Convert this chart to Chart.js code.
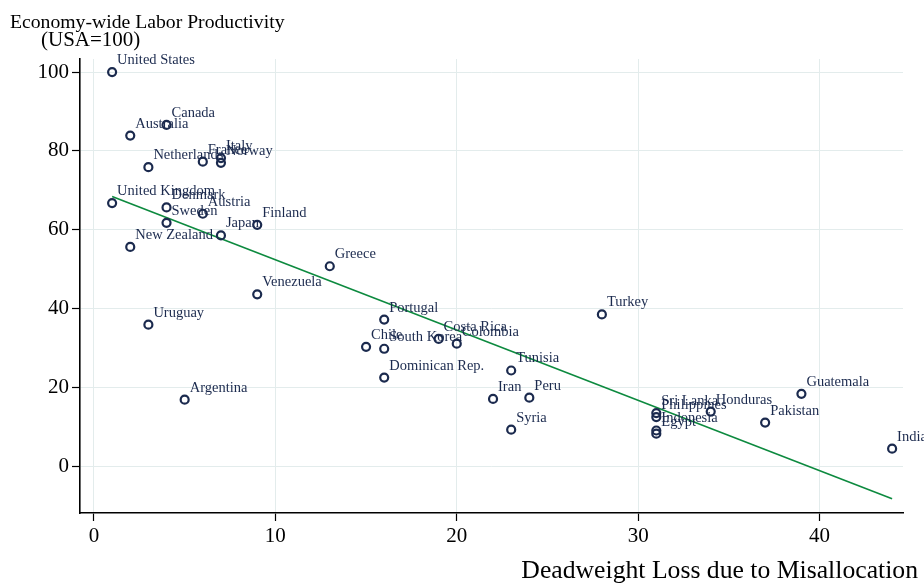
<!DOCTYPE html>
<html>
<head>
<meta charset="utf-8">
<title>Labor productivity vs. misallocation</title>
<script src="https://cdn.jsdelivr.net/npm/chart.js@4.4.1/dist/chart.umd.min.js"></script>
<style>
    html, body { margin: 0; padding: 0; background: #ffffff; }
    canvas { display: block; }
</style>
</head>
<body>
<canvas id="misallocChart" width="924" height="587"></canvas>
<script>
// Country scatter: deadweight loss (x) vs labor productivity, USA = 100 (y)
var countries = [
    'United States', 'Canada', 'Australia', 'Netherlands', 'France', 'Italy', 'Norway',
    'United Kingdom', 'Denmark', 'Austria', 'Sweden', 'Finland', 'Japan', 'New Zealand',
    'Greece', 'Venezuela', 'Uruguay', 'Portugal', 'Chile', 'South Korea', 'Costa Rica',
    'Colombia', 'Dominican Rep.', 'Tunisia', 'Iran', 'Peru', 'Syria', 'Turkey', 'Argentina',
    'Guatemala', 'Honduras', 'Sri Lanka', 'Philippines', 'Indonesia', 'Egypt', 'Pakistan', 'India'
];
var deadweightLoss = [
    1, 4, 2, 3, 6, 7, 7,
    1, 4, 6, 4, 9, 7, 2,
    13, 9, 3, 16, 15, 16, 19,
    20, 16, 23, 22, 24, 23, 28, 5,
    39, 34, 31, 31, 31, 31, 37, 44
];
var laborProductivity = [
    100, 86.6, 83.9, 75.9, 77.3, 78.2, 77.0,
    66.8, 65.7, 64.1, 61.8, 61.3, 58.6, 55.7,
    50.8, 43.7, 36.0, 37.3, 30.4, 29.9, 32.4,
    31.2, 22.6, 24.4, 17.2, 17.5, 9.4, 38.6, 17.0,
    18.5, 14.0, 13.6, 12.6, 9.2, 8.4, 11.2, 4.6
];

// linear fit endpoints
var fitX = [1, 44];
var fitY = [68.5, -8.1];

var xTicks = [0, 10, 20, 30, 40];
var yTicks = [0, 20, 40, 60, 80, 100];

var serif = "'Liberation Serif', 'Times New Roman', serif";
var navy = '#1b2a4e';
var gridColor = '#e3ecec';

var countryLabels = {
    id: 'countryLabels',
    afterDatasetsDraw: function (chart) {
        var ctx = chart.ctx;
        var xs = chart.scales.x;
        var ys = chart.scales.y;
        ctx.save();
        ctx.font = '14.5px ' + serif;
        ctx.fillStyle = navy;
        ctx.textAlign = 'left';
        ctx.textBaseline = 'alphabetic';
        for (var i = 0; i < countries.length; i++) {
            var px = xs.getPixelForValue(deadweightLoss[i]);
            var py = ys.getPixelForValue(laborProductivity[i]);
            ctx.fillText(countries[i], px + 5, py - 8);
        }
        ctx.restore();
    }
};

var axisTitles = {
    id: 'axisTitles',
    afterDraw: function (chart) {
        var ctx = chart.ctx;
        ctx.save();
        ctx.fillStyle = '#000000';
        ctx.textBaseline = 'alphabetic';
        ctx.textAlign = 'left';
        ctx.font = '19.7px ' + serif;
        ctx.fillText('Economy-wide Labor Productivity', 10, 28);
        ctx.font = '21px ' + serif;
        ctx.fillText('(USA=100)', 41, 46);
        ctx.textAlign = 'right';
        ctx.font = '25.7px ' + serif;
        ctx.fillText('Deadweight Loss due to Misallocation', 918, 578);
        ctx.restore();
    }
};

var points = deadweightLoss.map(function (v, i) { return { x: v, y: laborProductivity[i] }; });
var fitLine = fitX.map(function (v, i) { return { x: v, y: fitY[i] }; });

new Chart(document.getElementById('misallocChart').getContext('2d'), {
    type: 'scatter',
    data: {
        datasets: [
            {
                label: 'Fitted values',
                type: 'line',
                data: fitLine,
                borderColor: '#0d8a3f',
                borderWidth: 1.6,
                pointRadius: 0,
                fill: false,
                tension: 0,
                order: 2
            },
            {
                label: 'Countries',
                data: points,
                pointStyle: 'circle',
                pointRadius: 4,
                borderWidth: 2.2,
                borderColor: navy,
                backgroundColor: 'rgba(255,255,255,0)',
                order: 1
            }
        ]
    },
    plugins: [countryLabels, axisTitles],
    options: {
        responsive: false,
        animation: false,
        events: [],
        layout: { padding: { top: 59, right: 21, left: 0, bottom: 0 } },
        plugins: {
            legend: { display: false },
            tooltip: { enabled: false }
        },
        scales: {
            x: {
                type: 'linear',
                min: -0.77,
                max: 44.6,
                afterBuildTicks: function (s) {
                    s.ticks = xTicks.map(function (v) { return { value: v }; });
                },
                afterFit: function (s) { s.height = 74; },
                grid: {
                    color: gridColor,
                    lineWidth: 1,
                    tickColor: '#000000',
                    tickLength: 8,
                    tickWidth: 1.2
                },
                border: { color: '#000000', width: 1.6 },
                ticks: {
                    color: '#000000',
                    font: { size: 21, family: serif },
                    padding: 3,
                    maxRotation: 0
                }
            },
            y: {
                type: 'linear',
                min: -11.7,
                max: 103.3,
                afterBuildTicks: function (s) {
                    s.ticks = yTicks.map(function (v) { return { value: v }; });
                },
                afterFit: function (s) { s.width = 80; },
                grid: {
                    color: gridColor,
                    lineWidth: 1,
                    tickColor: '#000000',
                    tickLength: 8,
                    tickWidth: 1.2
                },
                border: { color: '#000000', width: 1.6 },
                ticks: {
                    color: '#000000',
                    font: { size: 21, family: serif },
                    padding: 3
                }
            }
        }
    }
});
</script>
</body>
</html>
